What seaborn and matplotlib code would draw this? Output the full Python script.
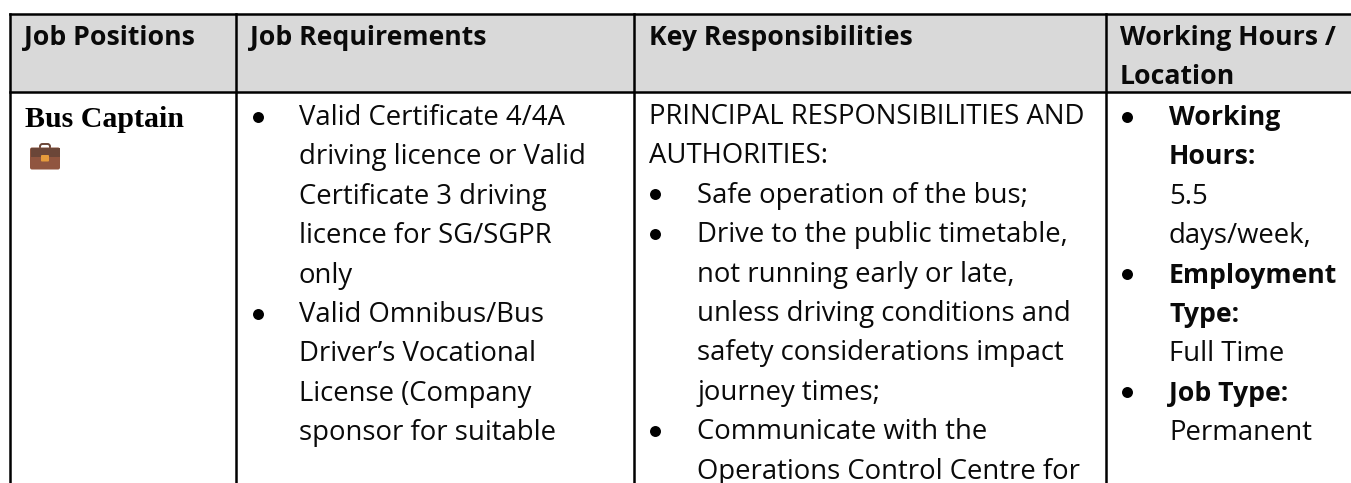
import seaborn as sns
import matplotlib.pyplot as plt
from matplotlib.patches import FancyBboxPatch, Rectangle

headers = ['Job Positions', 'Job Requirements', 'Key Responsibilities', 'Working Hours /\nLocation']
position = 'Bus Captain'

# (bullet starts here, bold, text)
requirements = [
    (True, False, 'Valid Certificate 4/4A'),
    (False, False, 'driving licence or Valid'),
    (False, False, 'Certificate 3 driving'),
    (False, False, 'licence for SG/SGPR'),
    (False, False, 'only'),
    (True, False, 'Valid Omnibus/Bus'),
    (False, False, 'Driver’s Vocational'),
    (False, False, 'License (Company'),
    (False, False, 'sponsor for suitable'),
]
responsibilities = [
    (None, False, 'PRINCIPAL RESPONSIBILITIES AND'),
    (None, False, 'AUTHORITIES:'),
    (True, False, 'Safe operation of the bus;'),
    (True, False, 'Drive to the public timetable,'),
    (False, False, 'not running early or late,'),
    (False, False, 'unless driving conditions and'),
    (False, False, 'safety considerations impact'),
    (False, False, 'journey times;'),
    (True, False, 'Communicate with the'),
    (False, False, 'Operations Control Centre for'),
]
working = [
    (True, True, 'Working'),
    (False, True, 'Hours:'),
    (False, False, '5.5'),
    (False, False, 'days/week,'),
    (True, True, 'Employment'),
    (False, True, 'Type:'),
    (False, False, 'Full Time'),
    (True, True, 'Job Type:'),
    (False, False, 'Permanent'),
]

W, H = 1351, 483
col_x = [10, 236, 633.5, 1105.5]
top, head_bot = 14, 92
pitch = 39.4
first_base = 125
fs = 19.8
fs_bold = 19.2

sns.set_theme(style='white')
plt.rcParams['font.family'] = ['Open Sans', 'DejaVu Sans']

fig = plt.figure(figsize=(W / 100, H / 100), dpi=100)

# grey header band
hax = fig.add_axes([col_x[0] / W, 1 - head_bot / H, (W - col_x[0]) / W, (head_bot - top) / H])
sns.heatmap([[1]], cmap=['#d9d9d9'], cbar=False, xticklabels=False, yticklabels=False, ax=hax)

ax = fig.add_axes([0, 0, 1, 1])
ax.set_xlim(0, W)
ax.set_ylim(H, 0)
ax.axis('off')
ax.patch.set_alpha(0)

for x in col_x:
    ax.plot([x, x], [top, H], color='black', lw=1.8, solid_capstyle='projecting')
for y in [top, head_bot]:
    ax.plot([col_x[0], W], [y, y], color='black', lw=1.8, solid_capstyle='projecting')

head_x = [24, 250, 649, 1120]
for x, h in zip(head_x, headers):
    for i, part in enumerate(h.split('\n')):
        ax.text(x, 45 + i * 39.5, part, fontsize=fs_bold, fontweight='bold', color='#0a0a0a', va='baseline')

ax.text(25, 127, position, fontsize=21.5, fontweight='bold', family='Liberation Serif', color='black', va='baseline')

# briefcase icon
ax.add_patch(FancyBboxPatch((40, 144), 10, 6, boxstyle='round,pad=0,rounding_size=2.5', fc='none', ec='#6b4638', lw=1.4))
ax.add_patch(FancyBboxPatch((30, 147.5), 30, 22, boxstyle='round,pad=0,rounding_size=2', fc='#90553f', ec='none'))
ax.add_patch(Rectangle((30.5, 148), 29, 9, fc='#6b4638', ec='none'))
ax.add_patch(FancyBboxPatch((41, 155), 8, 6.5, boxstyle='round,pad=0,rounding_size=1', fc='#e59b3c', ec='none'))


def draw_cell(lines, bullet_x, text_x, plain_x, base=first_base):
    for i, (bullet, bold, txt) in enumerate(lines):
        y = base + i * pitch
        x = plain_x if bullet is None else text_x
        if bullet:
            ax.plot([bullet_x], [y - 8.5], 'o', color='black', ms=7.9, mew=0)
        ax.text(x, y, txt, fontsize=fs_bold if bold else fs, fontweight='bold' if bold else 'normal',
                color='#0a0a0a', va='baseline')


draw_cell(requirements, 258, 299, 250)
draw_cell(responsibilities, 655, 697, 649, base=124)
draw_cell(working, 1127, 1169, 1120)

plt.savefig('out.png', dpi=100)
plt.close()
